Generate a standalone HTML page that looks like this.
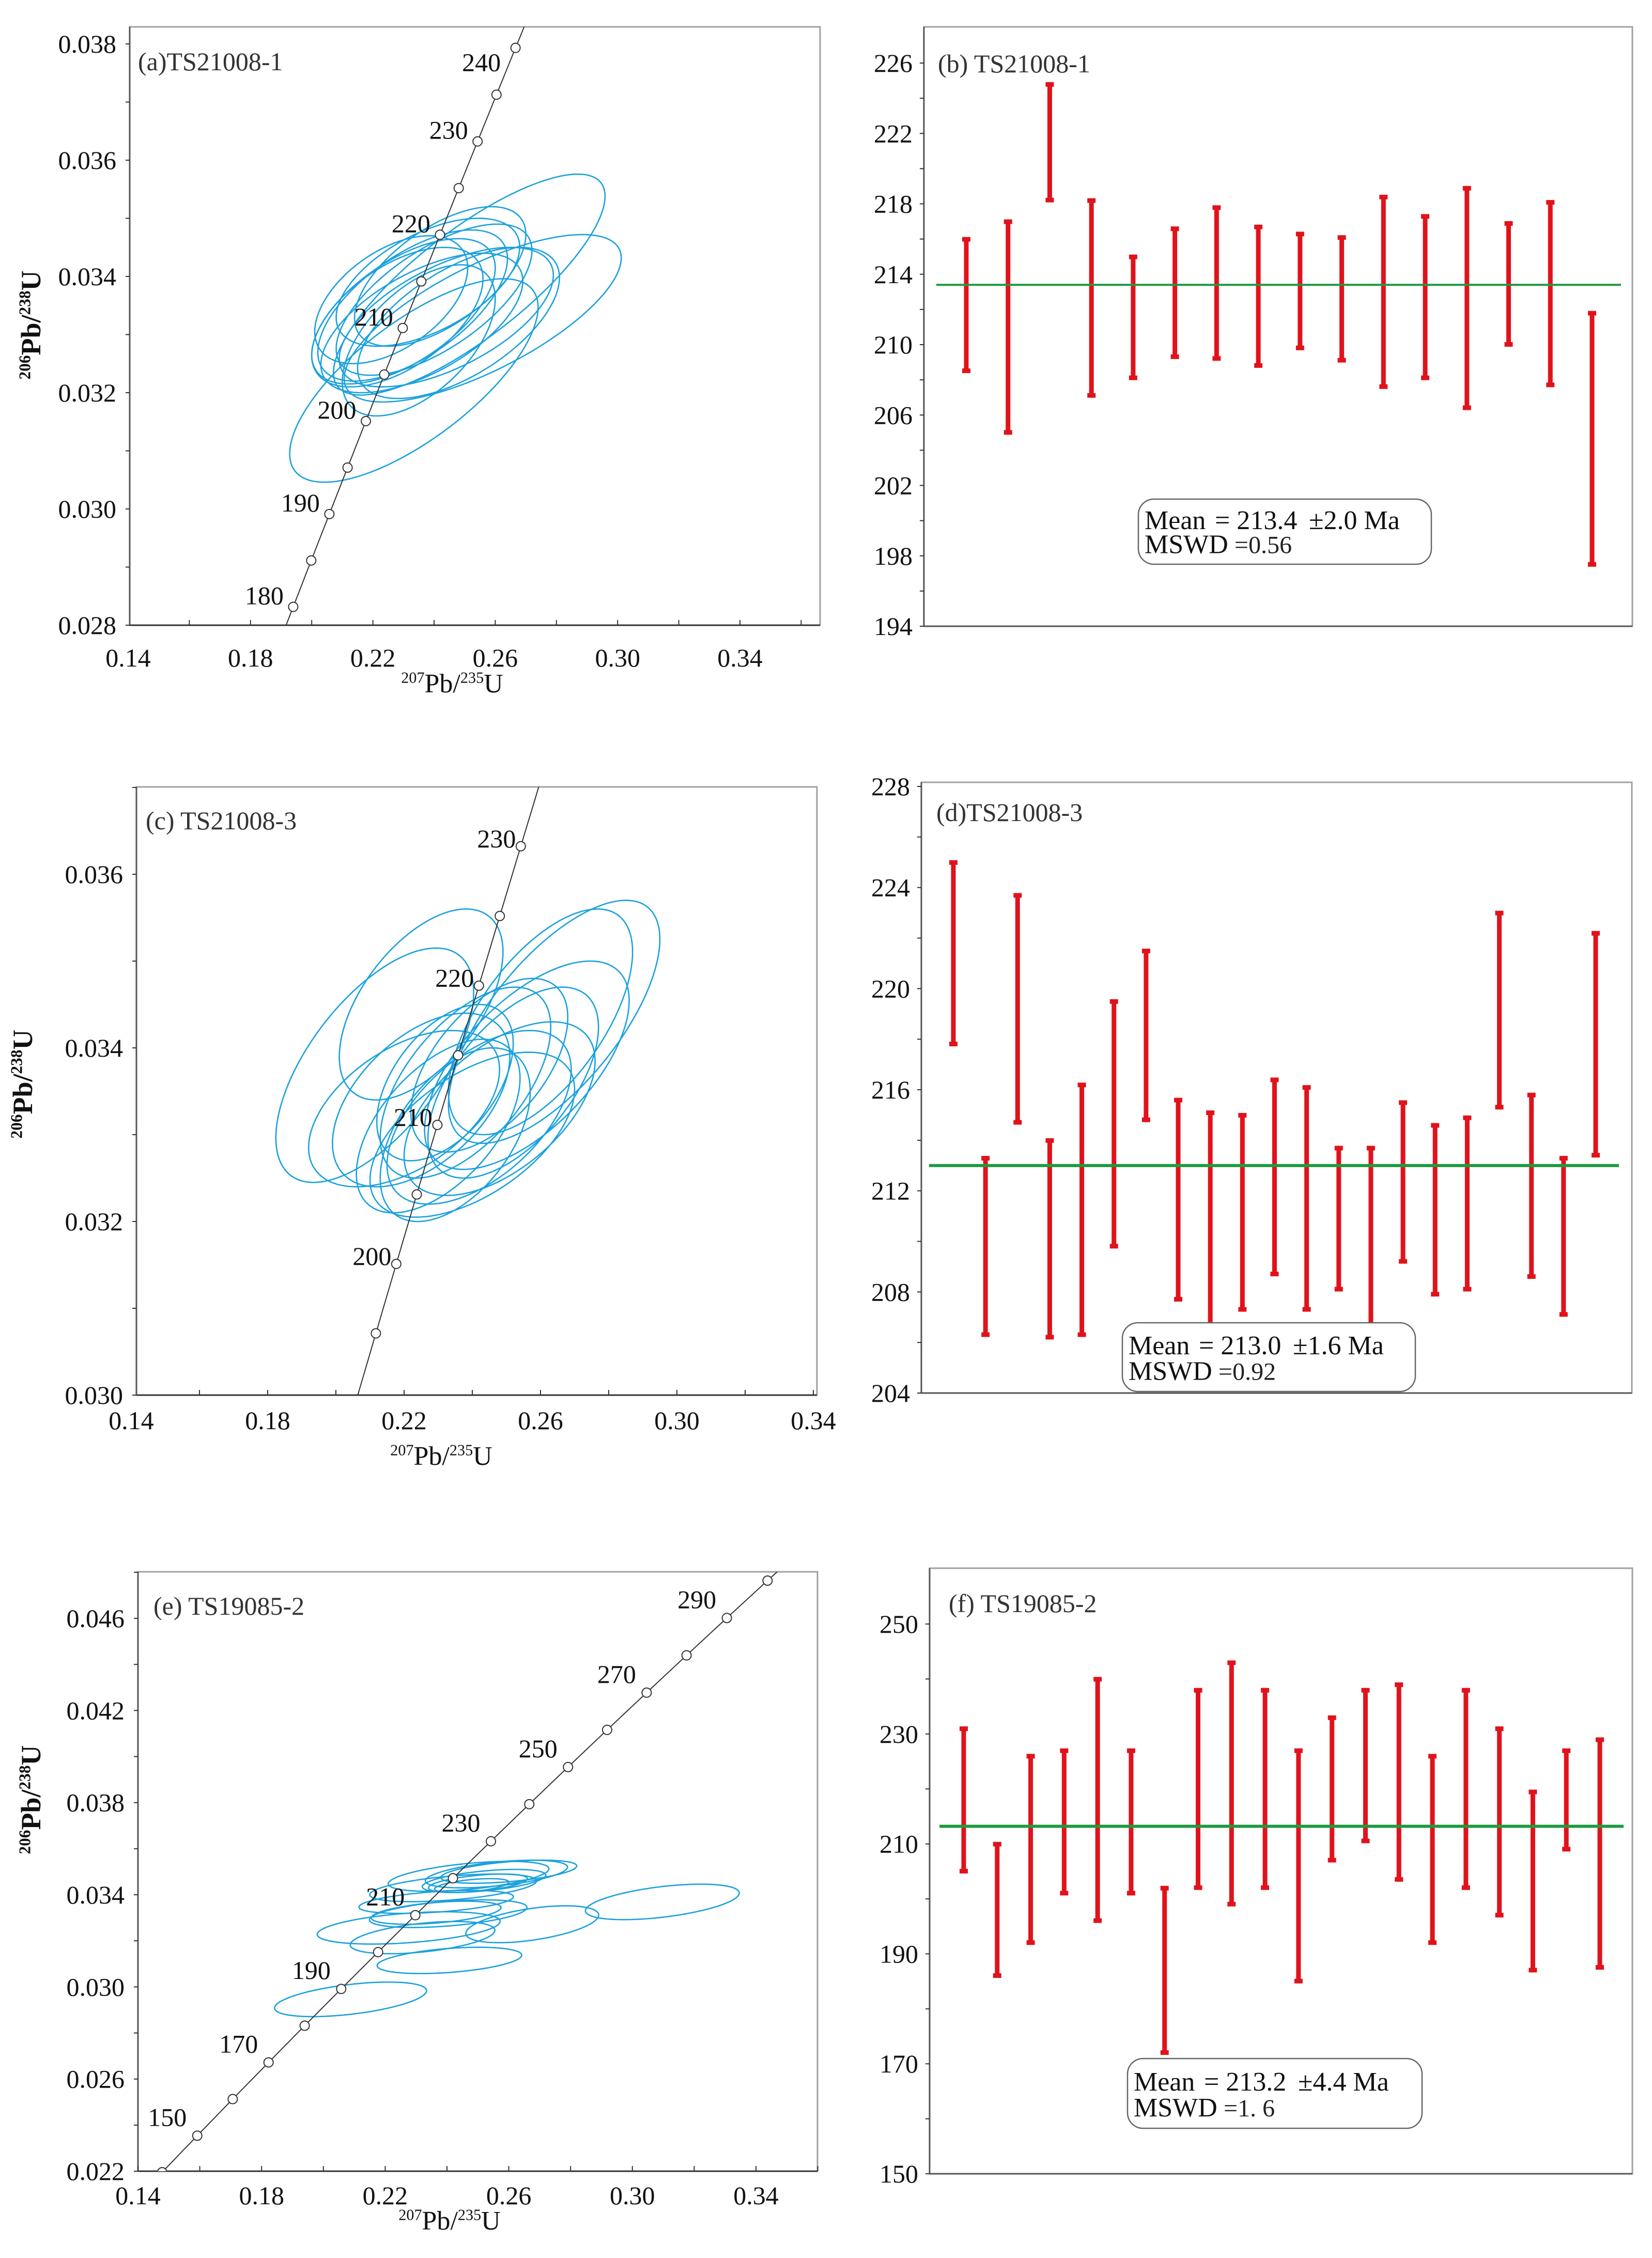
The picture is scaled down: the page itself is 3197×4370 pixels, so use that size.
<!DOCTYPE html>
<html><head><meta charset="utf-8"><title>U-Pb concordia and weighted mean plots</title>
<style>
html,body{margin:0;padding:0;background:#fff;width:3197px;height:4370px;overflow:hidden;}
svg{display:block;font-family:"Liberation Serif",serif;}
</style></head>
<body>
<svg id="fig" xmlns="http://www.w3.org/2000/svg" width="3197" height="4370" viewBox="0 0 3197 4370">
<rect width="3197" height="4370" fill="#fff"/>
</svg>
<script>
// ---------- Data ----------
// Concordia ellipses: [x207/235 center, y206/238 center, x half-width, y half-width, correlation]
const ellipsesA = [
 [0.2334,0.03221,0.0406,0.00175,0.72],
 [0.2515,0.03386,0.0444,0.0019,0.8],
 [0.2559,0.03328,0.0453,0.00144,0.72],
 [0.2300,0.03340,0.0300,0.00125,0.6],
 [0.2280,0.03330,0.0280,0.00120,0.55],
 [0.2330,0.03350,0.0310,0.00130,0.62],
 [0.2360,0.03320,0.0330,0.00120,0.6],
 [0.2400,0.03360,0.0320,0.00130,0.65],
 [0.2440,0.03330,0.0350,0.00120,0.6],
 [0.2380,0.03390,0.0300,0.00110,0.55],
 [0.2260,0.03360,0.0250,0.00110,0.5],
 [0.2480,0.03320,0.0330,0.00130,0.6],
 [0.2420,0.03400,0.0280,0.00120,0.6],
 [0.2350,0.03290,0.0250,0.00130,0.55]
];
const ellipsesC = [
 [0.2114,0.0338,0.0290,0.00135,0.62],
 [0.2640,0.03430,0.0310,0.00140,0.68],
 [0.2600,0.0343,0.0270,0.0013,0.62],
 [0.2250,0.0345,0.0240,0.0011,0.55],
 [0.2380,0.0336,0.0250,0.0011,0.58],
 [0.2420,0.0332,0.0270,0.0010,0.55],
 [0.2300,0.0331,0.0240,0.0010,0.55],
 [0.2480,0.0333,0.0280,0.0010,0.55],
 [0.2350,0.0330,0.0220,0.0010,0.5],
 [0.2520,0.0336,0.0250,0.0011,0.58],
 [0.2450,0.0338,0.0230,0.0010,0.55],
 [0.2250,0.0334,0.0260,0.0010,0.5],
 [0.2400,0.0330,0.0300,0.00095,0.55],
 [0.2560,0.0338,0.0300,0.0012,0.62],
 [0.2320,0.0336,0.0200,0.0009,0.5],
 [0.2200,0.0333,0.0280,0.0009,0.5]
];
const ellipsesE = [
 [0.2088,0.02946,0.0246,0.00075,0.5],
 [0.2408,0.03115,0.0234,0.00057,0.4],
 [0.3097,0.03369,0.0249,0.00077,0.5],
 [0.2676,0.03272,0.0215,0.0008,0.5],
 [0.2276,0.03256,0.0296,0.0007,0.4],
 [0.2321,0.03214,0.0234,0.0007,0.45],
 [0.2404,0.03318,0.0255,0.0006,0.45],
 [0.2365,0.03322,0.0210,0.0005,0.45],
 [0.2365,0.03369,0.0250,0.0005,0.45],
 [0.2470,0.03480,0.0260,0.00065,0.5],
 [0.2560,0.03490,0.0230,0.0006,0.5],
 [0.2600,0.03500,0.0220,0.0005,0.5],
 [0.2520,0.03460,0.0200,0.0005,0.5],
 [0.2500,0.03450,0.0160,0.0004,0.5],
 [0.2480,0.03440,0.0120,0.0003,0.5],
 [0.2420,0.03430,0.0270,0.0006,0.5]
];
// Weighted-mean age bars: [upper, lower] in Ma
const agesB = [[216,208.5],[217,205],[224.8,218.2],[218.2,207.1],[215,208.1],[216.6,209.3],[217.8,209.2],[216.7,208.8],[216.3,209.8],[216.1,209.1],[218.4,207.6],[217.3,208.1],[218.9,206.4],[216.9,210],[218.1,207.7],[211.8,197.5]];
const agesD = [[225,217.8],[213.3,206.3],[223.7,214.7],[214,206.2],[216.2,206.3],[219.5,209.8],[221.5,214.8],[215.6,207.7],[215.1,206.7],[215,207.3],[216.4,208.7],[216.1,207.3],[213.7,208.1],[213.7,206.4],[215.5,209.2],[214.6,207.9],[214.9,208.1],[223,215.3],[215.8,208.6],[213.3,207.1],[222.2,213.4]];
const agesF = [[231,205],[210,186],[226,192],[227,201],[240,196],[227,201],[202,172],[238,202],[243,199],[238,202],[227,185],[233,207],[238,210.5],[239,203.5],[226,192],[238,202],[231,197],[219.5,187],[227,209],[229,187.5]];
const meanB = 213.4, meanD = 213.0, meanF = 213.2;
const statsB = ["213.4","±2.0 Ma","0.56"];
const statsD = ["213.0","±1.6 Ma","0.92"];
const statsF = ["213.2","±4.4 Ma","1. 6"];
const yTicksB = [194,198,202,206,210,214,218,222,226];
const yTicksD = [204,208,212,216,220,224,228];
const yTicksF = [150,170,190,210,230,250];
const xTicksConc = [0.14,0.18,0.22,0.26,0.30,0.34];
const yTicksA = [0.028,0.030,0.032,0.034,0.036,0.038];
const yTicksC = [0.030,0.032,0.034,0.036];
const yTicksE = [0.022,0.026,0.030,0.034,0.038,0.042,0.046];
const concLabelsA = [180,190,200,210,220,230,240];
const concLabelsC = [200,210,220,230];
const concLabelsE = [150,170,190,210,230,250,270,290];

// ---------- Helpers ----------
const NS = "http://www.w3.org/2000/svg";
const svg = document.getElementById('fig');
function mk(tag, attrs, parent){
  const e = document.createElementNS(NS, tag);
  for (const k in attrs) e.setAttribute(k, attrs[k]);
  (parent||svg).appendChild(e);
  return e;
}
const L238 = 1.55125e-10, L235 = 9.8485e-10;
function conc(t){ return [Math.exp(L235*t*1e6)-1, Math.exp(L238*t*1e6)-1]; }
function lin(d0,d1,p0,p1){ return v => p0 + (v-d0)/(d1-d0)*(p1-p0); }

function supTitle(g, x, y, a, b, c, size, rotate, bold){
  const t = mk('text', {x:x, y:y, 'text-anchor':'middle', 'font-size':size, fill:'#111', 'font-weight': bold?'bold':'normal'}, g);
  if (rotate) t.setAttribute('transform', `rotate(-90 ${x} ${y})`);
  const s = size*0.58, dy = size*0.36;
  let e;
  e = mk('tspan', {'font-size':s, dy:-dy}, t); e.textContent = a;
  e = mk('tspan', {'font-size':size, dy:dy}, t); e.textContent = 'Pb/';
  e = mk('tspan', {'font-size':s, dy:-dy}, t); e.textContent = b;
  e = mk('tspan', {'font-size':size, dy:dy}, t); e.textContent = c;
  return t;
}

let clipId = 0;
function concordiaPanel(cfg){
  const g = mk('g', {});
  
  
  const X = lin(0.14, 0.34, cfg.x014, cfg.x034);
  const Y = lin(cfg.yd0, cfg.yd1, cfg.yp0, cfg.yp1);
  const b = cfg.box;
  const cid = 'clip'+(clipId++);
  const cp = mk('clipPath', {id:cid}, g);
  mk('rect', {x:b[0], y:b[1], width:b[2]-b[0], height:b[3]-b[1]}, cp);
  const fr = mk('rect', {x:b[0], y:b[1], width:b[2]-b[0], height:b[3]-b[1], fill:'none', stroke:'#a0a0a0', 'stroke-width':3}, g);
  
  
  mk('line', {x1:b[0], y1:b[3], x2:b[2], y2:b[3], stroke:'#333', 'stroke-width':3}, g);
  mk('line', {x1:b[0], y1:b[1], x2:b[0], y2:b[3], stroke:'#555', 'stroke-width':3}, g);
  for (let v=0.14; v<=0.361; v+=0.02){
    const px = X(v);
    if (px < b[0]-2 || px > b[2]+2) continue;
    mk('line', {x1:px, y1:b[3], x2:px, y2:b[3]-10, stroke:'#333', 'stroke-width':2}, g);
  }
  xTicksConc.forEach(v => {
    const t = mk('text', {x:X(v), y:b[3]+cfg.xlabDy, 'text-anchor':'middle', 'font-size':50, fill:'#111'}, g);
    
    
    t.textContent = v.toFixed(2);
  });
  const step = cfg.yTicks[1]-cfg.yTicks[0];
  for (let v=cfg.yd0; v<=cfg.yTicks[cfg.yTicks.length-1]+step*0.6; v+=step/2){
    const py = Y(v);
    if (py < b[1]-2 || py > b[3]+2) continue;
    mk('line', {x1:b[0]-8, y1:py, x2:b[0], y2:py, stroke:'#333', 'stroke-width':2}, g);
  }
  cfg.yTicks.forEach(v => {
    const t = mk('text', {x:b[0]-26, y:Y(v)+17, 'text-anchor':'end', 'font-size':50, fill:'#111'}, g);
    
    
    t.textContent = v.toFixed(3);
  });
  const eg = mk('g', {'clip-path':`url(#${cid})`}, g);
  cfg.ellipses.forEach(e => {
    let d = '';
    const r = Math.sqrt(1-e[4]*e[4]);
    for (let i=0;i<=120;i++){
      const th = i/120*2*Math.PI;
      const xv = e[0] + e[2]*Math.cos(th);
      const yv = e[1] + e[3]*(e[4]*Math.cos(th) + r*Math.sin(th));
      d += (i?'L':'M') + X(xv).toFixed(1) + ' ' + Y(yv).toFixed(1);
    }
    const p = mk('path', {d:d+'Z', fill:'none', stroke:'#1ba1dc', 'stroke-width':2.6}, eg);
    
    
  });
  let d = '';
  for (let t=100; t<=360; t+=1){
    const c = conc(t);
    d += (t===100?'M':'L') + X(c[0]).toFixed(1) + ' ' + Y(c[1]).toFixed(1);
  }
  const cc = mk('path', {d:d, fill:'none', stroke:'#333', 'stroke-width':2}, eg);
  
  
  for (let t=cfg.tStart; t<=cfg.tEnd; t+=cfg.tStep){
    const c = conc(t);
    const m = mk('circle', {cx:X(c[0]), cy:Y(c[1]), r:9, fill:'#fff', stroke:'#333', 'stroke-width':2}, eg);
    
    
  }
  cfg.labels.forEach(t => {
    const c = conc(t);
    const off = (cfg.labelOff[t] || cfg.labelOff.def);
    const tx = mk('text', {x:X(c[0])+off[0], y:Y(c[1])+off[1]+17, 'text-anchor':'middle', 'font-size':50, fill:'#111'}, g);
    
    
    tx.textContent = t;
  });
  const pl = mk('text', {x:cfg.titleXY[0], y:cfg.titleXY[1], 'font-size':50, fill:'#333'}, g);
  
  
  pl.textContent = cfg.title;
  const xt = supTitle(g, cfg.xTitle[0], cfg.xTitle[1], '207', '235', 'U', 52, false, false);
  
  
  const yt = supTitle(g, cfg.yTitle[0], cfg.yTitle[1], '206', '238', 'U', 54, true, true);
  
  
}

function meanPanel(cfg){
  const g = mk('g', {});
  
  
  const b = cfg.box;
  const Y = lin(cfg.yd0, cfg.yd1, cfg.yp0, cfg.yp1);
  const fr = mk('rect', {x:b[0], y:b[1], width:b[2]-b[0], height:b[3]-b[1], fill:'none', stroke:'#a0a0a0', 'stroke-width':3}, g);
  
  
  mk('line', {x1:b[0], y1:b[3], x2:b[2], y2:b[3], stroke:'#555', 'stroke-width':3}, g);
  mk('line', {x1:b[0], y1:b[1], x2:b[0], y2:b[3], stroke:'#555', 'stroke-width':3}, g);
  const t0 = cfg.yTicks[0], t1 = cfg.yTicks[cfg.yTicks.length-1], st = cfg.yTicks[1]-cfg.yTicks[0];
  for (let v=t0; v<=t1+1e-9; v+=st/2){
    mk('line', {x1:b[0]-8, y1:Y(v), x2:b[0], y2:Y(v), stroke:'#333', 'stroke-width':2}, g);
  }
  cfg.yTicks.forEach(v => {
    const t = mk('text', {x:b[0]-22, y:Y(v)+17, 'text-anchor':'end', 'font-size':50, fill:'#111'}, g);
    
    
    t.textContent = v;
  });
  const pl = mk('text', {x:cfg.titleXY[0], y:cfg.titleXY[1], 'font-size':50, fill:'#333'}, g);
  
  
  pl.textContent = cfg.title;
  const n = cfg.ages.length;
  const Xi = i => cfg.xFirst + i*(cfg.xLast-cfg.xFirst)/(n-1);
  cfg.ages.forEach((a,i) => {
    const x = Xi(i);
    const bar = mk('g', {}, g);
    
    
    mk('line', {x1:x, y1:Y(a[0]), x2:x, y2:Y(a[1]), stroke:'#e0131c', 'stroke-width':9}, bar);
    mk('rect', {x:x-8, y:Y(a[0])-4, width:16, height:9, fill:'#e0131c'}, bar);
    mk('rect', {x:x-8, y:Y(a[1])-5, width:16, height:9, fill:'#e0131c'}, bar);
  });
  const ml = mk('line', {x1:cfg.meanX[0], y1:Y(cfg.mean), x2:cfg.meanX[1], y2:Y(cfg.mean), stroke:'#1d9a40', 'stroke-width':cfg.meanW}, g);
  
  
  const bx = cfg.statBox;
  const sg = mk('g', {}, g);
  
  
  mk('rect', {x:bx[0], y:bx[1], width:bx[2]-bx[0], height:bx[3]-bx[1], rx:30, ry:30, fill:'#fff', stroke:'#666', 'stroke-width':2.5}, sg);
  const l1 = bx[1] + (bx[3]-bx[1])*0.46, l2 = bx[1] + (bx[3]-bx[1])*0.83;
  const s = cfg.stats;
  let t;
  t = mk('text', {x:bx[0]+12, y:l1, 'font-size':52, fill:'#111'}, sg); t.textContent = 'Mean';
  t = mk('text', {x:bx[0]+148, y:l1, 'font-size':52, fill:'#111'}, sg); t.textContent = '= ' + s[0];
  t = mk('text', {x:bx[0]+330, y:l1, 'font-size':52, fill:'#111'}, sg); t.textContent = s[1];
  t = mk('text', {x:bx[0]+12, y:l2, 'font-size':52, fill:'#111'}, sg); t.textContent = 'MSWD';
  t = mk('text', {x:bx[0]+186, y:l2, 'font-size':48, fill:'#222'}, sg); t.textContent = '=' + s[2];
}

// ---------- Panels ----------
concordiaPanel({name:'panel-a-concordia', title:'(a)TS21008-1', titleXY:[267,136],
  box:[251,52,1587,1210], x014:248, x034:1432, yd0:0.028, yd1:0.038, yp0:1210, yp1:85,
  yTicks:yTicksA, ellipses:ellipsesA, tStart:175, tEnd:250, tStep:5, labels:concLabelsA,
  labelOff:{def:[-56,-22], 240:[-66,28]}, xlabDy:80, xTitle:[875,1340], yTitle:[78,629]});
meanPanel({name:'panel-b-weighted-mean', title:'(b) TS21008-1', titleXY:[1815,140],
  box:[1788,52,3159,1212], yd0:194, yd1:226, yp0:1212, yp1:122, yTicks:yTicksB,
  ages:agesB, xFirst:1870, xLast:3081, mean:meanB, meanX:[1812,3137], meanW:4,
  statBox:[2203,966,2770,1092], stats:statsB});
concordiaPanel({name:'panel-c-concordia', title:'(c) TS21008-3', titleXY:[282,1605],
  box:[264,1523,1581,2700], x014:254, x034:1574, yd0:0.030, yd1:0.036, yp0:2700, yp1:1692,
  yTicks:yTicksC, ellipses:ellipsesC, tStart:190, tEnd:240, tStep:5, labels:concLabelsC,
  labelOff:{def:[-47,-15]}, xlabDy:66, xTitle:[854,2835], yTitle:[62,2098]});
meanPanel({name:'panel-d-weighted-mean', title:'(d)TS21008-3', titleXY:[1812,1589],
  box:[1783,1514,3158,2696], yd0:204, yd1:228, yp0:2696, yp1:1522, yTicks:yTicksD,
  ages:agesD, xFirst:1845, xLast:3088, mean:meanD, meanX:[1798,3133], meanW:6,
  statBox:[2172,2560,2739,2693], stats:statsD});
concordiaPanel({name:'panel-e-concordia', title:'(e) TS19085-2', titleXY:[297,3125],
  box:[267,3042,1582,4202], x014:267, x034:1463, yd0:0.022, yd1:0.046, yp0:4202, yp1:3132,
  yTicks:yTicksE, ellipses:ellipsesE, tStart:140, tEnd:310, tStep:10, labels:concLabelsE,
  labelOff:{def:[-58,-36]}, xlabDy:64, xTitle:[870,4315], yTitle:[78,3483]});
meanPanel({name:'panel-f-weighted-mean', title:'(f) TS19085-2', titleXY:[1836,3120],
  box:[1799,3035,3159,4207], yd0:150, yd1:250, yp0:4207, yp1:3143, yTicks:yTicksF,
  ages:agesF, xFirst:1865, xLast:3096, mean:meanF, meanX:[1818,3142], meanW:6,
  statBox:[2182,3984,2752,4119], stats:statsF});
</script>
</body></html>
